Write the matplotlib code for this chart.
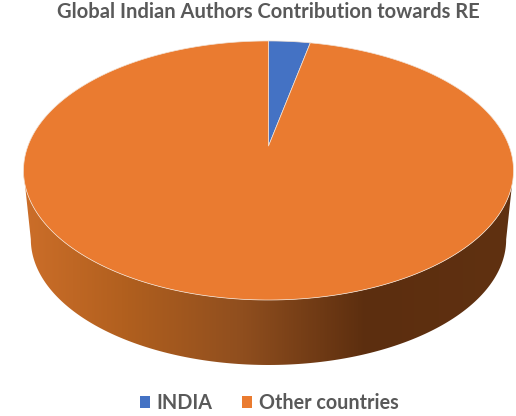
import numpy as np
import matplotlib
matplotlib.use("Agg")
import matplotlib.pyplot as plt
from matplotlib.colors import LinearSegmentedColormap
from matplotlib.patches import Patch, Polygon

title = "Global Indian Authors Contribution towards RE"
labels = ["INDIA", "Other countries"]
values = [3.3, 96.7]
colors = ["#4472C4", "#EA7B30"]

# perspective of the pie disc, in pixels
center_x = 268.5
center_y = 146
persp = 0.189
scale_x = 240.6
scale_y = 124.9
# lower disc of the pie
low_scale = 0.97
low_y = 215.6


def project(t, r=1.0, s=1.0, cy=center_y):
    # t is clockwise from 12 o'clock
    u = r * np.sin(t)
    v = r * np.cos(t)
    w = 1 + persp * v
    return center_x + s * scale_x * u / w, cy - s * scale_y * v / w


fig = plt.figure(figsize=(5.16, 4.16), dpi=100)
ax = fig.add_axes([0, 0, 1, 1])
ax.set_xlim(0, 516)
ax.set_ylim(416, 0)
ax.axis("off")

# side wall, shaded left to right
t_side = np.radians(np.linspace(90 + np.degrees(np.arcsin(persp)), 270 - np.degrees(np.arcsin(persp)), 200))
x_top, y_top = project(t_side)
x_low, y_low = project(t_side, s=low_scale, cy=low_y)
wall = np.vstack([np.column_stack([x_low, y_low]), np.column_stack([x_top[::-1], y_top[::-1]])])
clip = Polygon(wall, closed=True, transform=ax.transData, facecolor="none", edgecolor="none")
ax.add_patch(clip)
cmap = LinearSegmentedColormap.from_list(
    "side", [(0, "#CC6E29"), (0.2, "#B2601F"), (0.45, "#8F4E1E"), (0.7, "#5C2E0F"), (1, "#603111")]
)
grad = ax.imshow(np.linspace(0, 1, 256).reshape(1, -1), cmap=cmap, extent=[23, 513, 370, 170], aspect="auto", zorder=1)
grad.set_clip_path(clip)
ax.set_xlim(0, 516)
ax.set_ylim(416, 0)

# top of the pie
start = 0.0
total = sum(values)
for val, col in zip(values, colors):
    end = start + val / total * 2 * np.pi
    t = np.linspace(start, end, 300)
    xs, ys = project(t)
    xs = np.concatenate([[center_x], xs])
    ys = np.concatenate([[center_y], ys])
    ax.fill(xs, ys, facecolor=col, edgecolor="#F3E3D6", linewidth=0.5, zorder=2, joinstyle="round")
    start = end

ax.text(268.5, 12.5, title, ha="center", va="center", fontsize=14.5, fontweight="bold",
        family="Lato", color="#595959")

handles = [Patch(facecolor=c, edgecolor="none") for c in colors]
ax.legend(handles, labels, loc="center", bbox_to_anchor=(269.5, 403), bbox_transform=ax.transData,
          ncol=2, frameon=False, handlelength=0.5, handleheight=0.5, handletextpad=0.35,
          columnspacing=1.5, labelcolor="#595959",
          prop={"family": "Lato", "weight": "bold", "size": 14.2})

fig.savefig("out.png", dpi=100)
